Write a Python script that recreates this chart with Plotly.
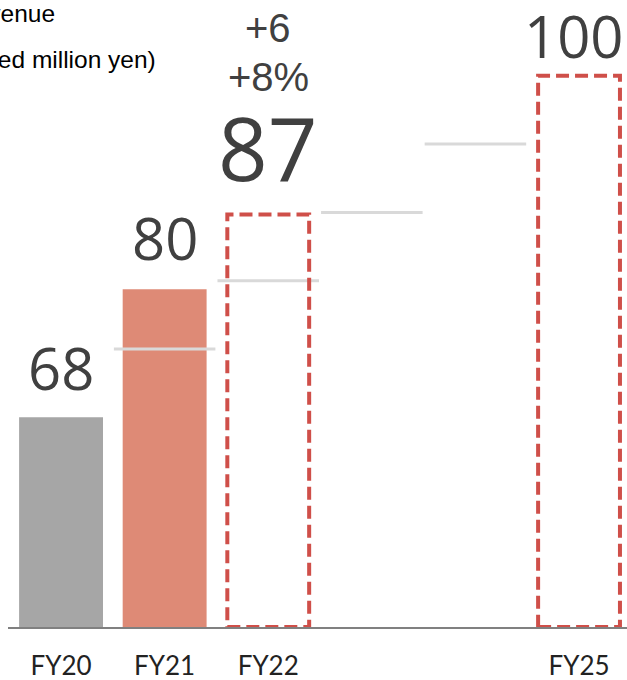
import plotly.graph_objects as go

# ---- data ----
categories = ["FY20", "FY21", "FY22", "FY23", "FY24", "FY25"]
tick_labels = ["FY20", "FY21", "FY22", "", "", "FY25"]
actual_categories = ["FY20", "FY21"]
actual_values = [68, 80]
actual_colors = ["#a6a6a6", "#de8a76"]
target_categories = ["FY22", "FY25"]
target_values = [87, 100]
step_categories = ["FY21", "FY22", "FY23", "FY24"]
step_levels = [74.4, 80.8, 87.2, 93.6]
change_category = "FY22"
change_abs = "+6"
change_pct = "+8%"
title_line1 = "Revenue"
title_line2 = "(hundred million yen)"

# ---- layout constants ----
W, H = 627, 680
M_L, M_R, M_T, M_B = 8, 0, 0, 53
Y_MIN, Y_MAX = 48.35, 107.1
X_MIN, X_MAX = -0.512, 5.463
PLOT_H = H - M_T - M_B

idx = {c: i for i, c in enumerate(categories)}


def py(pix):
    """pixel y (from top) -> paper y"""
    return 1 - (pix - M_T) / PLOT_H


def px(pix):
    return (pix - M_L) / (W - M_L - M_R)


fig = go.Figure()

fig.add_trace(go.Bar(
    x=[idx[c] for c in actual_categories],
    y=actual_values,
    width=0.81,
    marker=dict(color=actual_colors, line=dict(width=0)),
    hoverinfo="skip",
    showlegend=False,
))

# gray step guide lines
sx, sy = [], []
for c, lvl in zip(step_categories, step_levels):
    i = idx[c]
    sx += [i - 0.49, i + 0.49, None]
    sy += [lvl, lvl, None]
fig.add_trace(go.Scatter(
    x=sx, y=sy, mode="lines",
    line=dict(color="#d9d9d9", width=3),
    hoverinfo="skip", showlegend=False,
))

# dashed target boxes
for c, v in zip(target_categories, target_values):
    i = idx[c]
    fig.add_shape(
        type="rect", xref="x", yref="y",
        x0=i - 0.395, x1=i + 0.395, y0=Y_MIN, y1=v,
        line=dict(color="#cf4f49", width=4, dash="13px,6px"),
        fillcolor="rgba(0,0,0,0)", layer="above",
    )

# value labels
label_cats = actual_categories + target_categories
label_vals = actual_values + target_values
label_sizes = [58, 58, 87, 58]
label_shift = [50, 52, 68, 40]
label_xshift = [0, 0, 0, -5]
for c, v, s, sh, xs in zip(label_cats, label_vals, label_sizes, label_shift, label_xshift):
    fig.add_annotation(
        x=idx[c], y=v, xref="x", yref="y",
        text=str(v), showarrow=False,
        xanchor="center", yanchor="middle", yshift=sh, xshift=xs,
        font=dict(family="Open Sans", size=s, color="#404040"),
    )

# change annotations
fig.add_annotation(
    x=idx[change_category], y=py(28), xref="x", yref="paper",
    text=change_abs, showarrow=False, xanchor="center", yanchor="middle",
    font=dict(family="Liberation Sans, Arial", size=40, color="#404040"),
)
fig.add_annotation(
    x=idx[change_category], y=py(77), xref="x", yref="paper",
    text=change_pct, showarrow=False, xanchor="center", yanchor="middle",
    font=dict(family="Liberation Sans, Arial", size=40, color="#404040"),
)

# title (cropped at the left edge in the original)
fig.add_annotation(
    x=px(56.5), y=py(13.5), xref="paper", yref="paper",
    text=title_line1, showarrow=False, xanchor="right", yanchor="middle",
    font=dict(family="Liberation Sans, Arial", size=24.5, color="#000000"),
)
fig.add_annotation(
    x=px(158), y=py(59), xref="paper", yref="paper",
    text=title_line2, showarrow=False, xanchor="right", yanchor="middle",
    font=dict(family="Liberation Sans, Arial", size=24.5, color="#000000"),
)

fig.update_layout(
    width=W, height=H,
    margin=dict(l=M_L, r=M_R, t=M_T, b=M_B, pad=0, autoexpand=False),
    paper_bgcolor="white", plot_bgcolor="white",
    bargap=0.2,
    xaxis=dict(
        range=[X_MIN, X_MAX],
        tickmode="array",
        tickvals=list(range(len(categories))),
        ticktext=tick_labels,
        showgrid=False, zeroline=False,
        showline=True, linecolor="#808080", linewidth=1.5,
        ticks="outside", ticklen=15, tickcolor="rgba(0,0,0,0)",
        tickfont=dict(family="Lato", size=26, color="#222222"),
        automargin=False,
        fixedrange=True,
    ),
    yaxis=dict(
        range=[Y_MIN, Y_MAX],
        visible=False, showgrid=False, zeroline=False,
        automargin=False,
        fixedrange=True,
    ),
)

fig.write_html("out.html")
